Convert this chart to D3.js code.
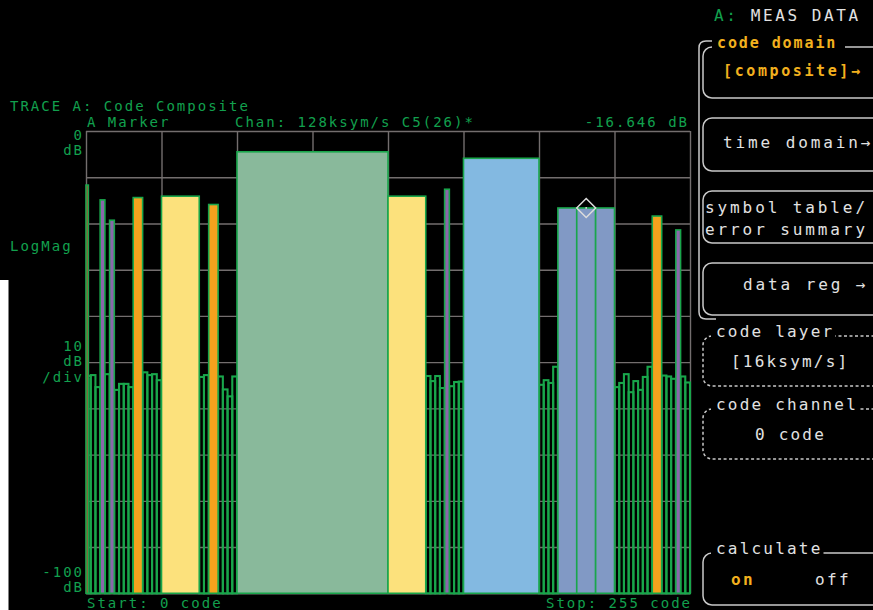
<!DOCTYPE html>
<html>
<head>
<meta charset="utf-8">
<script src="https://cdn.jsdelivr.net/npm/d3@7/dist/d3.min.js"></script>
<style>
  html, body { margin: 0; padding: 0; background: #000; }
  svg { display: block; }
  text { font-family: "DejaVu Sans Mono", "Liberation Mono", monospace; }
</style>
</head>
<body>
<svg id="chart" width="873" height="610"></svg>
<script>
// Active code channels: first code, width in codes, power (dB)
const channelCodes = [0, 6, 10, 20, 32, 52, 64, 128, 152, 160, 200, 208, 216, 240, 250];
const channelSpans = [1, 2, 2, 4, 16, 4, 64, 16, 2, 32, 8, 8, 8, 4, 2];
const channelPower = [-11.7, -14.9, -19.3, -14.4, -14.1, -15.9, -4.5, -14.1, -12.6, -5.9, -16.65, -16.646, -16.65, -18.4, -21.4];

// Inactive codes (noise floor): first code, width in codes, power (dB)
const idleCodes = [1, 2, 4, 8, 12, 14, 16, 18, 24, 26, 28, 30, 48, 50, 56, 58, 60, 62,
  144, 146, 148, 150, 154, 156, 158, 192, 194, 196, 198,
  224, 226, 228, 230, 232, 234, 236, 238, 244, 246, 248, 252, 254];
const idleSpans = [1, 2, 2, 2, 2, 2, 2, 2, 2, 2, 2, 2, 2, 2, 2, 2, 2, 2,
  2, 2, 2, 2, 2, 2, 2, 2, 2, 2, 2,
  2, 2, 2, 2, 2, 2, 2, 2, 2, 2, 2, 2, 2];
const idlePower = [-53.0, -52.8, -55.4, -52.6, -56.0, -54.7, -54.7, -55.4, -52.2, -52.8, -52.6, -53.9, -53.2, -52.8,
  -53.1, -55.9, -57.4, -53.1,
  -53.0, -54.1, -53.0, -55.6, -55.2, -54.3, -54.2, -54.9, -53.9, -54.5, -51.0,
  -55.4, -54.5, -52.6, -56.5, -54.1, -56.0, -53.2, -51.0, -52.9, -53.1, -53.6, -53.1, -54.4];

// Axis settings
const codeStart = 0, codeStop = 255;
const refLevel = 0, bottomLevel = -100, dbPerDiv = 10;
const codeGridStep = 32;

// Marker
const markerCode = 212;
const markerLevel = -16.646;

// Softkey menu
const menuTitle = "code domain";
const menuKeys = [["[composite]→"], ["time domain→"], ["symbol table/", "error summary"], ["data reg  →"]];

const svg = d3.select("#chart");
const W = 873, H = 610;
const plotL = 86, plotR = 690, plotT = 131, plotB = 593.3;

const GREEN_TXT = "#12a04e";
const OUTLINE = "#19a64b";
const GRID = "#736e6e";
const WHITE = "#e2e2e2";
const BOXLINE = "#c9c9c9";
const AMBER = "#f2b01e";

svg.append("rect").attr("width", W).attr("height", H).attr("fill", "#000");
// light bezel edge on the lower left
svg.append("rect").attr("x", 0).attr("y", 280).attr("width", 8.5).attr("height", H - 280).attr("fill", "#fff");

const x = d3.scaleLinear().domain([codeStart, codeStop + 1]).range([plotL, plotR]);
const y = d3.scaleLinear().domain([bottomLevel, refLevel]).range([plotB, plotT]);

// Colour by code width (symbol-rate layer)
const spanColor = d3.scaleOrdinal()
  .domain([1, 2, 4, 8, 16, 32, 64])
  .range(["#c8412e", "#8b66ab", "#f4a21d", "#8199c5", "#fce17c", "#83b9e1", "#89b99b"]);

// Graticule
const gx = svg.append("g")
  .attr("transform", `translate(0,${plotB})`)
  .call(d3.axisBottom(x)
    .tickValues(d3.range(codeStart, codeStop + 2, codeGridStep))
    .tickSize(-(plotB - plotT))
    .tickFormat(""));
const gy = svg.append("g")
  .attr("transform", `translate(${plotL},0)`)
  .call(d3.axisLeft(y)
    .tickValues(d3.range(bottomLevel, refLevel + 1, dbPerDiv))
    .tickSize(-(plotR - plotL))
    .tickFormat(""));
[gx, gy].forEach(g => {
  g.select(".domain").remove();
  g.selectAll(".tick line").attr("stroke", GRID).attr("stroke-width", 1.4);
});

// Noise-floor codes
const idle = idleCodes.map((c, i) => ({ code: c, span: idleSpans[i], db: idlePower[i] }));
svg.append("g").selectAll("rect").data(idle).join("rect")
  .attr("x", d => x(d.code))
  .attr("width", d => x(d.code + d.span) - x(d.code))
  .attr("y", d => y(d.db))
  .attr("height", d => y(bottomLevel) - y(d.db))
  .attr("fill", "none")
  .attr("stroke", OUTLINE)
  .attr("stroke-width", 2.1);

// Active channels
const chans = channelCodes.map((c, i) => ({ code: c, span: channelSpans[i], db: channelPower[i] }));
svg.append("g").selectAll("rect").data(chans).join("rect")
  .attr("x", d => x(d.code))
  .attr("width", d => x(d.code + d.span) - x(d.code))
  .attr("y", d => y(d.db))
  .attr("height", d => y(bottomLevel) - y(d.db))
  .attr("fill", d => spanColor(d.span))
  .attr("stroke", OUTLINE)
  .attr("stroke-width", 1.6);

// Marker diamond
const mx = x(markerCode), my = y(markerLevel), ms = 9.5;
svg.append("path")
  .attr("d", `M${mx},${my - ms}L${mx + ms},${my}L${mx},${my + ms}L${mx - ms},${my}Z`)
  .attr("fill", "none").attr("stroke", "#dcdcdc").attr("stroke-width", 1.5);
svg.append("circle").attr("cx", mx).attr("cy", my).attr("r", 0.9).attr("fill", "#dcdcdc");

// Trace annotations
function txt(g, s, xx, yy, opts = {}) {
  return g.append("text")
    .attr("x", xx).attr("y", yy)
    .attr("fill", opts.fill || GREEN_TXT)
    .attr("font-size", opts.size || 14)
    .attr("font-weight", opts.weight || "normal")
    .attr("letter-spacing", opts.ls == null ? 2 : opts.ls)
    .attr("text-anchor", opts.anchor || "start")
    .text(s);
}
const ann = svg.append("g");
txt(ann, "TRACE A: Code Composite", 10, 111);
txt(ann, "A Marker", 87, 126.5);
txt(ann, "Chan: 128ksym/s C5(26)*", 235, 126.5);
txt(ann, `${markerLevel.toFixed(3)} dB`, 689, 126.5, { anchor: "end" });
txt(ann, String(refLevel), 84, 140, { anchor: "end" });
txt(ann, "dB", 84, 155, { anchor: "end" });
txt(ann, "LogMag", 10, 251);
txt(ann, String(dbPerDiv), 84, 351, { anchor: "end" });
txt(ann, "dB", 84, 366, { anchor: "end" });
txt(ann, "/div", 84, 382, { anchor: "end" });
txt(ann, String(bottomLevel), 84, 577, { anchor: "end" });
txt(ann, "dB", 84, 592, { anchor: "end" });
txt(ann, `Start: ${codeStart} code`, 87, 607.5);
txt(ann, `Stop: ${codeStop} code`, 692, 607.5, { anchor: "end" });

// Right-hand softkey panel
const panel = svg.append("g");
const big = { size: 16, ls: 2.9 };
function ptxt(s, xx, yy, extra = {}) {
  return txt(panel, s, xx, yy, Object.assign({ fill: WHITE }, big, extra));
}
// status line
const st = panel.append("text").attr("x", 714).attr("y", 21)
  .attr("font-size", 16).attr("letter-spacing", 2.6);
st.append("tspan").attr("fill", GREEN_TXT).text("A: ");
st.append("tspan").attr("fill", WHITE).text("MEAS DATA");

// group bracket
panel.append("path")
  .attr("d", "M715,41 H706 Q699,41 699,48 V312 Q699,319 706,319 H716")
  .attr("fill", "none").attr("stroke", BOXLINE).attr("stroke-width", 1.5);

const keyTops = [47, 118, 191, 263];
const keyH = [51, 53, 52, 52];
keyTops.forEach((t, i) => {
  panel.append("rect").attr("x", 703).attr("y", t).attr("width", 185).attr("height", keyH[i])
    .attr("rx", 9).attr("fill", "none").attr("stroke", BOXLINE).attr("stroke-width", 1.5);
});
// mask for group title
panel.append("rect").attr("x", 712).attr("y", 34).attr("width", 133).attr("height", 16).attr("fill", "#000");
ptxt(menuTitle, 717, 48, { fill: AMBER, weight: "bold", size: 15, ls: 1.9 });
ptxt(menuKeys[0][0], 723, 76, { fill: AMBER, weight: "bold", size: 15, ls: 2.6 });
ptxt(menuKeys[1][0], 723, 148);
ptxt(menuKeys[2][0], 705, 213);
ptxt(menuKeys[2][1], 705, 235);
ptxt(menuKeys[3][0], 743, 290);

// parameter boxes
function paramBox(label, value, t, h, dashed, valueX) {
  panel.append("rect").attr("x", 703).attr("y", t).attr("width", 185).attr("height", h)
    .attr("rx", 9).attr("fill", "none").attr("stroke", BOXLINE).attr("stroke-width", 1.5)
    .attr("stroke-dasharray", dashed ? "3,2.5" : null);
  const lab = ptxt(label, 716, t + 1, { ls: 2.2 });
  const bb = lab.node().getBBox();
  panel.insert("rect", () => lab.node())
    .attr("x", 711).attr("y", t - 12).attr("width", bb.width + 6).attr("height", 16).attr("fill", "#000");
  if (value) ptxt(value, valueX, t + 31, { ls: 2.2 });
}
paramBox("code layer", "[16ksym/s]", 336, 50, true, 731);
paramBox("code channel", "0 code", 409, 50, true, 755);
paramBox("calculate", null, 553, 52, false);
ptxt("on", 731, 585, { fill: AMBER, weight: "bold", ls: 2.4 });
ptxt("off", 815, 585, { ls: 2.4 });
</script>
</body>
</html>
